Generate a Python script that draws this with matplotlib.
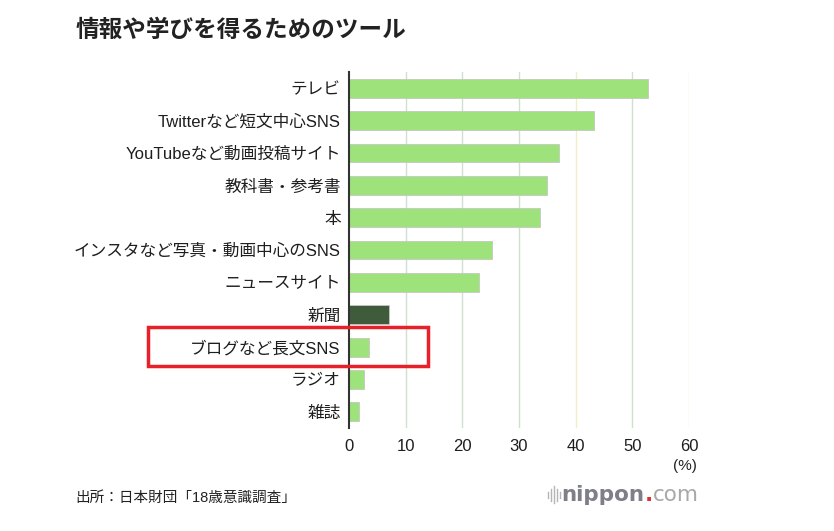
import matplotlib
matplotlib.use("Agg")
import matplotlib.pyplot as plt
from matplotlib.patches import Rectangle
from matplotlib.offsetbox import TextArea, HPacker, AnchoredOffsetbox

plt.rcParams['font.family'] = ['Liberation Sans', 'Noto Sans CJK JP', 'DejaVu Sans']

# data (%)
tools = ['テレビ', 'Twitterなど短文中心SNS', 'YouTubeなど動画投稿サイト', '教科書・参考書', '本',
         'インスタなど写真・動画中心のSNS', 'ニュースサイト', '新聞', 'ブログなど長文SNS', 'ラジオ', '雑誌']
values = [52.8, 43.2, 37.0, 34.9, 33.7, 25.2, 23.0, 7.0, 3.5, 2.7, 1.8]
ticks = [0, 10, 20, 30, 40, 50, 60]

light = '#9de27b'
dark = '#3f5b3c'
colors = [dark if t == '新聞' else light for t in tools]

fig = plt.figure(figsize=(8.34, 5.31), dpi=100)
ax = fig.add_axes([0.4185, 0.194, 0.4077, 0.670])

# grid
for t in ticks[1:]:
    c = '#f0edc8' if t in (40, 60) else '#cfe0cf'
    ax.axvline(t, color=c, lw=1.0, zorder=0)

ypos = list(range(len(tools)))
ax.barh(ypos, values, height=0.58, color=colors, edgecolor='#c4c9c0', linewidth=0.6, zorder=2)

ax.set_xlim(0, 60)
ax.set_ylim(len(tools) - 0.5, -0.5)
ax.set_yticks(ypos)
ax.set_yticklabels(tools, fontsize=12, color='#1e1e1e')
ax.set_xticks(ticks)
ax.set_xticklabels([str(t) for t in ticks], fontsize=12, color='#1e1e1e')
ax.tick_params(axis='both', length=0, pad=6)
ax.tick_params(axis='x', pad=8)
for s in ['top', 'right', 'bottom']:
    ax.spines[s].set_visible(False)
ax.spines['left'].set_color('#333333')
ax.spines['left'].set_linewidth(1.5)
ax.spines['left'].set_zorder(3)

fig.text(0.09, 0.943, '情報や学びを得るためのツール', fontsize=17, fontweight='bold',
         color='#222222', va='center', ha='left')
fig.text(0.836, 0.122, '(%)', fontsize=11, color='#222222', ha='right', va='center')
fig.text(0.09, 0.062, '出所：日本財団「18歳意識調査」', fontsize=10.5, color='#222222', ha='left', va='center')

# nippon.com mark
parts = [TextArea('nippon', textprops=dict(fontsize=15.5, color='#7f7f8a', fontweight='bold', family='DejaVu Sans')),
         TextArea('.', textprops=dict(fontsize=15.5, color='#e03030', fontweight='bold', family='DejaVu Sans')),
         TextArea('com', textprops=dict(fontsize=15.5, color='#a8a8a8', family='DejaVu Sans'))]
logo = AnchoredOffsetbox(loc='center right', child=HPacker(children=parts, sep=0, pad=0),
                         bbox_to_anchor=(0.838, 0.068), bbox_transform=fig.transFigure,
                         frameon=False, pad=0, borderpad=0)
fig.add_artist(logo)
for i, h in enumerate([0.012, 0.022, 0.032, 0.022, 0.012]):
    x = 0.657 + i * 0.0035
    fig.add_artist(plt.Line2D([x, x], [0.068 - h / 2, 0.068 + h / 2], color='#b5b5b5', lw=1))

# highlight box
fig.add_artist(Rectangle((0.177, 0.311), 0.336, 0.074, transform=fig.transFigure,
                         fill=False, edgecolor='#e8202a', linewidth=2.5))

fig.savefig('out.png', dpi=100, facecolor='white')
